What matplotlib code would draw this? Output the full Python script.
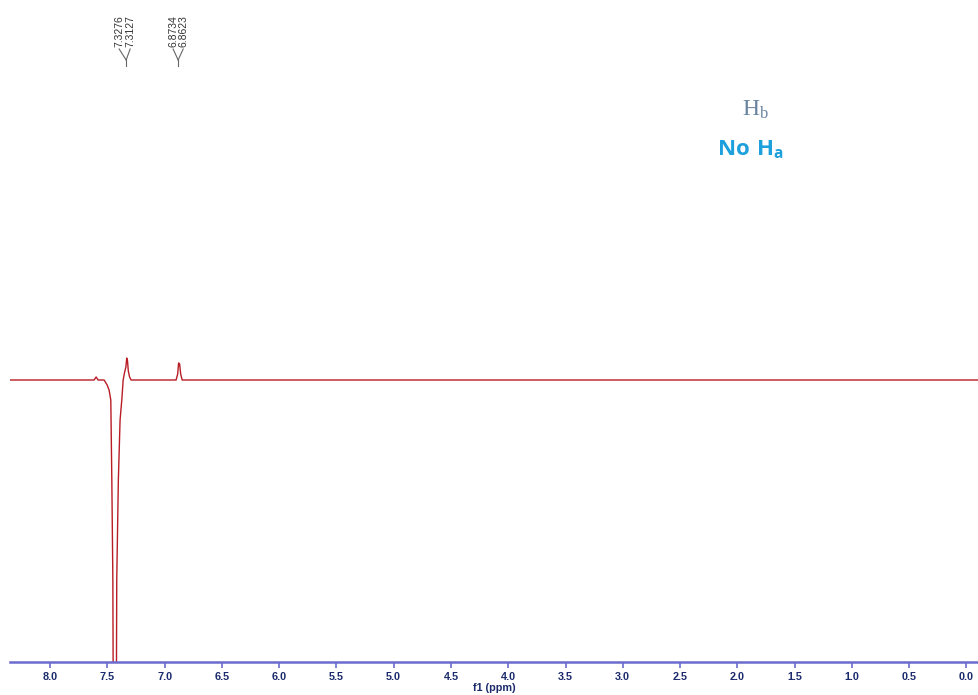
import matplotlib
matplotlib.use('Agg')
import matplotlib.pyplot as plt

# spectrum trace (ppm, intensity in px above baseline)
ppm = [8.349, 7.616, 7.598, 7.581, 7.528, 7.502, 7.485, 7.470, 7.461, 7.452,
       7.445, 7.425, 7.418, 7.404, 7.389, 7.374, 7.362, 7.349, 7.338, 7.331,
       7.324, 7.317, 7.306, 7.293, 6.900, 6.886, 6.878, 6.869, 6.860, 6.847,
       -0.114]
intensity = [0, 0, 3, 0, 0, -5, -10, -20, -100, -200,
             -450, -450, -200, -100, -40, -20, 0, 8, 13, 22,
             19, 9, 3, 0, 0, 6, 17, 16, 6, 0,
             0]

peak_labels = ['7.3276', '7.3127', '6.8734', '6.8623']
label_x = [7.397, 7.301, 6.926, 6.838]
vertex_x = [7.336, 6.882]

xticks = [8.0, 7.5, 7.0, 6.5, 6.0, 5.5, 5.0, 4.5, 4.0, 3.5, 3.0, 2.5, 2.0, 1.5, 1.0, 0.5, 0.0]

plt.rcParams['mathtext.fontset'] = 'custom'
plt.rcParams['mathtext.rm'] = 'Liberation Serif'
plt.rcParams['mathtext.bf'] = 'Open Sans:bold'

axis_col = '#6b6bcf'
label_col = '#1b2a6b'

fig = plt.figure(figsize=(9.79, 6.95), dpi=100)
ax = fig.add_axes([10/979, 33/695, 969/979, 662/695])
ax.plot(ppm, intensity, color='#b81c24', lw=1.0)
ax.set_xlim(8.35, -0.11)
ax.set_ylim(-282, 380)

for s in ['top', 'left', 'right']:
    ax.spines[s].set_visible(False)
ax.spines['bottom'].set_color(axis_col)
ax.spines['bottom'].set_linewidth(1.8)
ax.set_yticks([])
ax.set_xticks(xticks)
ax.set_xticklabels(['%.1f' % t for t in xticks], fontsize=7.8, fontweight='bold',
                   color=label_col, family='Liberation Sans')
ax.tick_params(axis='x', direction='out', length=4, width=1.2, color=axis_col, pad=3)
ax.set_xlabel('f1 (ppm)', fontsize=7.8, fontweight='bold', color=label_col,
              family='Liberation Sans', labelpad=1)

# multiplet labels at the top
for lab, x in zip(peak_labels, label_x):
    ax.text(x, 333, lab, rotation=90, ha='center', va='bottom', fontsize=7.5,
            color='#333333', family='Liberation Sans', clip_on=False)
for i, v in enumerate(vertex_x):
    for x in label_x[2*i:2*i+2]:
        ax.plot([x, v], [331, 320], color='#666666', lw=0.8, clip_on=False)
    ax.plot([v, v], [320, 314], color='#666666', lw=0.8, clip_on=False)

fig.text(755/979, 1 - 116/695, r'$\mathrm{H_b}$', fontsize=17, color='#6a84a0',
         ha='center', va='baseline', math_fontfamily='custom')
fig.text(750/979, 1 - 155/695, r'$\mathbf{No\ H_a}$', fontsize=16, color='#1ea0dc',
         ha='center', va='baseline', math_fontfamily='custom')

fig.savefig('out.png', dpi=100)
